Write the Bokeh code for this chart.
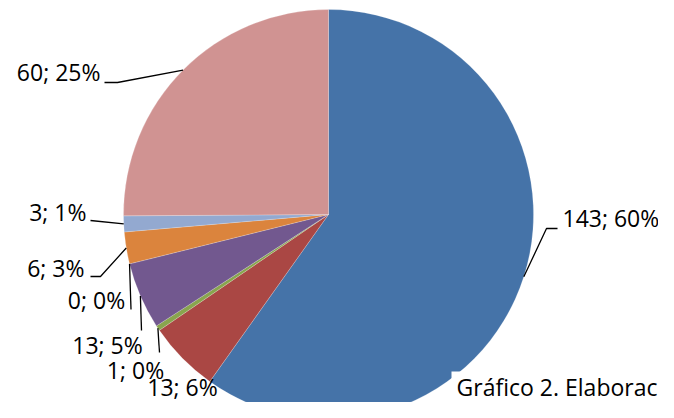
import math
from bokeh.plotting import figure
from bokeh.models import Range1d, ColumnDataSource
from bokeh.core.properties import value
from bokeh.embed import file_html
from bokeh.resources import INLINE

# ---- data ----
categories = ["A", "B", "C", "D", "E", "F", "G", "H"]
values = [143, 13.4, 1, 12.6, 0, 6, 3, 60]
colors = ["#4573A8", "#AA4744", "#89A54E", "#72588F", "#A0A0A0", "#DB843D", "#93A9D0", "#D09392"]
caption = "Gráfico 2. Elaborac"

# ---- layout ----
W, H = 658, 402
def Y(ys):
    return H - ys

cx, cy, R = 328, 214, 205
FONT = "Open Sans"
FS = "23px"
DY = 3  # visual centre of digits sits below the 'middle' anchor

p = figure(width=W, height=H, output_backend="svg", toolbar_location=None,
           x_range=Range1d(0, W), y_range=Range1d(0, H), min_border=0)
p.axis.visible = False
p.grid.visible = False
p.outline_line_color = None
p.background_fill_color = "white"

total = sum(values)
starts, ends, mids = [], [], []
cum = 0.0
for v in values:
    a0 = cum / total * 2 * math.pi
    cum += v
    a1 = cum / total * 2 * math.pi
    starts.append(math.pi / 2 - a1)
    ends.append(math.pi / 2 - a0)
    mids.append((a0 + a1) / 2)

keep = [i for i, v in enumerate(values) if v > 0]
src = ColumnDataSource(dict(start=[starts[i] for i in keep], end=[ends[i] for i in keep],
                            color=[colors[i] for i in keep], cat=[categories[i] for i in keep]))
p.wedge(x=cx, y=Y(cy), radius=R, start_angle="start", end_angle="end",
        direction="anticlock", fill_color="color", line_color="white",
        line_width=0.4, line_alpha=0.5, source=src)

# caption box covering part of the pie
p.quad(left=451, right=W, top=Y(371), bottom=0, fill_color="white", line_color=None)

labels = [f"{round(v)}; {round(100 * v / total)}%" for v in values]

# label anchor (screen coords), alignment, leader elbow points
lab_layout = [
    (562, 220, "left", [(546, 228), (557, 228)]),
    (182, 389, "center", None),
    (135, 372, "center", [(159, 352)]),
    (107, 347, "center", [(141, 330)]),
    (96, 302, "center", [(130.5, 309)]),
    (84, 270, "right", [(100, 276), (90, 276)]),
    (86, 214, "right", [(90, 220)]),
    (100, 74, "right", [(117, 82), (104, 82)]),
]

lx, ly = [], []
for (tx, ty, al, elbows), m, lab in zip(lab_layout, mids, labels):
    p.text(x=[tx], y=[Y(ty - DY)], text=[lab],
           text_font=value(FONT), text_font_size=FS, text_color="black",
           text_align=al, text_baseline="middle")
    if elbows:
        sx = cx + R * math.sin(m)
        sy = cy - R * math.cos(m)
        lx.append([sx] + [e[0] for e in elbows])
        ly.append([Y(sy)] + [Y(e[1]) for e in elbows])

p.multi_line(xs=lx, ys=ly, line_color="black", line_width=1.3)

p.text(x=[W - 1], y=[Y(389 - DY)], text=[caption], text_font=value(FONT), text_font_size=FS,
       text_color="black", text_align="right", text_baseline="middle")

open("out.html", "w").write(file_html(p, INLINE))
